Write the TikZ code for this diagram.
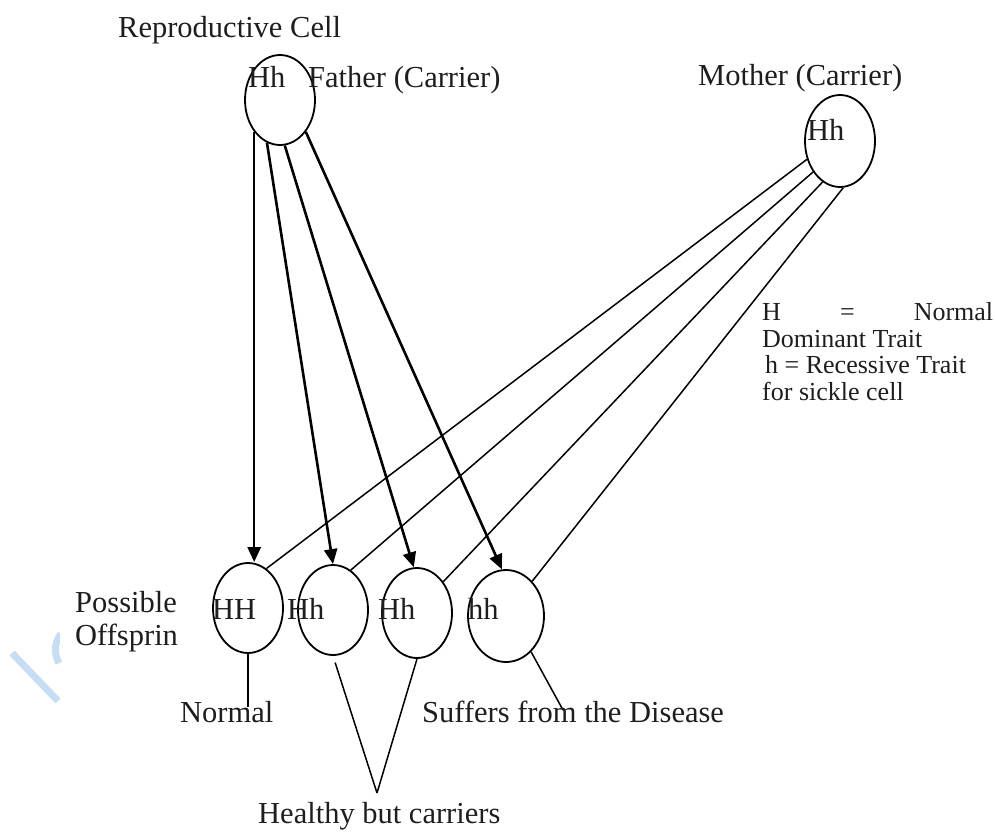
\documentclass[tikz,border=0pt]{standalone}
\usepackage{fontspec}
\setmainfont{Liberation Serif}
\usetikzlibrary{shapes.geometric,arrows.meta}
\definecolor{ink}{RGB}{30,30,30}
\definecolor{wm}{RGB}{198,221,243}
\begin{document}
\begin{tikzpicture}[x=1pt,y=-1pt,
  cell/.style={draw, ellipse, minimum width=70pt, minimum height=90pt, inner sep=0pt, line width=1.8pt},
  lbl/.style={anchor=base west, inner sep=0pt, text=ink, font=\fontsize{30.5}{33}\selectfont},
  heredity/.style={line width=2.6pt, -{Triangle[length=15pt,width=13pt]}},
  mline/.style={line width=1.5pt}]
\useasboundingbox (0,0) rectangle (995,833);
% faint watermark
\draw[wm, line width=7pt] (12,653) -- (58,701);
\draw[wm, line width=7pt] (61,634) .. controls (54,642) and (54,655) .. (59,663);
\fill[white] (60,583) rectangle (198,657);
% cells
\node[cell] (f) at (280,100) {};
\node[cell, minimum height=92pt] (m) at (840,141) {};
\node[cell] (o1) at (248,608) {};
\node[cell] (o2) at (333,610) {};
\node[cell] (o3) at (417,613) {};
\node[cell, minimum width=76pt, minimum height=92pt] (o4) at (506,616) {};
% father arrows
\draw[heredity] (f.231) -- (f.231 |- o1.north);
\draw[heredity] (f.253) -- (o2.north);
\draw[heredity] (f.276) -- (o3.94);
\draw[heredity] (f.309) -- (o4.95);
% mother lines
\draw[mline] (m.209) -- (o1.65);
\draw[mline] (m.229) -- (o2.66);
\draw[mline] (m.247) -- (o3.50);
\draw[mline] (m.274) -- (o4.53);
% outcome lines
\coordinate (n) at (248,707);
\coordinate (v) at (377,793);
\coordinate (s) at (563,710);
\draw[mline] (o1.south) -- (n);
\draw[mline, shorten <=7pt] (o2.south) -- (v);
\draw[mline] (v) -- (o3.south);
\draw[mline] (o4.305) -- (s);
% texts
\node[lbl] (t1) at (118,37) {Reproductive Cell};
\node[lbl] (t2) at (248,87) {Hh};
\node[lbl] (t3) at (308,87) {Father (Carrier)};
\node[lbl] (t4) at (698,85) {Mother (Carrier)};
\node[lbl] (t5) at (807,140) {Hh};
\node[lbl] (t6) at (75,612) {Possible};
\node[lbl] (t7) at (75,645) {Offsprin};
\node[lbl] (t8) at (212,619) {HH};
\node[lbl] (t9) at (287,619) {Hh};
\node[lbl] (t10) at (378,619) {Hh};
\node[lbl] (t11) at (468,619) {hh};
\node[lbl] (t12) at (180,722) {Normal};
\node[lbl] (t13) at (422,722) {Suffers from the Disease};
\node[lbl] (t14) at (258,823) {Healthy but carriers};
\node[lbl, font=\fontsize{26}{26.5}\selectfont, align=left] (t15) at (762,400)
  {\hbox to 231pt{H\hfill=\hfill Normal}\\Dominant Trait\\\hspace*{3pt}h = Recessive Trait\\for sickle cell};
\end{tikzpicture}
\end{document}
